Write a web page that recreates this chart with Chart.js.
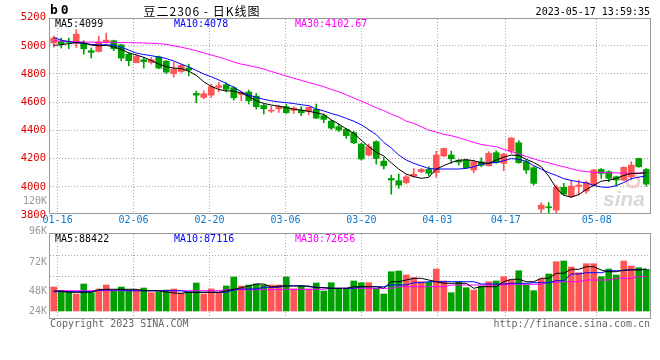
<!DOCTYPE html>
<html>
<head>
<meta charset="utf-8">
<title>豆二2306 - 日K线图</title>
<script src="https://cdn.jsdelivr.net/npm/chart.js@4.4.0/dist/chart.umd.min.js"></script>
<style>
  body { margin: 0; background: #fff; }
  #wrap { position: relative; width: 660px; height: 360px; }
  #wrap canvas { position: absolute; left: 0; top: 0; }
</style>
</head>
<body>
<div id="wrap">
  <canvas id="kChart" width="660" height="360"></canvas>
  <canvas id="volChart" width="660" height="360"></canvas>
</div>
<script>
// trading days shown on the chart
const dates = [
  '01-13', '01-16', '01-17', '01-18', '01-19', '01-20', '01-30', '01-31', '02-01', '02-02',
  '02-03', '02-06', '02-07', '02-08', '02-09', '02-10', '02-13', '02-14', '02-15', '02-16',
  '02-17', '02-20', '02-21', '02-22', '02-23', '02-24', '02-27', '02-28', '03-01', '03-02',
  '03-03', '03-06', '03-07', '03-08', '03-09', '03-10', '03-13', '03-14', '03-15', '03-16',
  '03-17', '03-20', '03-21', '03-22', '03-23', '03-24', '03-27', '03-28', '03-29', '03-30',
  '03-31', '04-03', '04-04', '04-06', '04-07', '04-10', '04-11', '04-12', '04-13', '04-14',
  '04-17', '04-18', '04-19', '04-20', '04-21', '04-24', '04-25', '04-26', '04-27', '04-28',
  '05-04', '05-05', '05-08', '05-09', '05-10', '05-11', '05-12', '05-15', '05-16', '05-17'
];
const tickDates = ['01-16', '02-06', '02-20', '03-06', '03-20', '04-03', '04-17', '05-08'];

const opens = [
  5020, 5031, 5031, 5019, 5019, 4965, 4960, 5026, 5036, 5007,
  4941, 4880, 4901, 4882, 4922, 4891, 4802, 4818, 4842, 4662,
  4634, 4650, 4705, 4724, 4702, 4655, 4672, 4643, 4577, 4537,
  4553, 4568, 4542, 4544, 4535, 4549, 4504, 4466, 4426, 4407,
  4383, 4303, 4225, 4320, 4182, 4059, 4043, 4029, 4076, 4107,
  4123, 4100, 4218, 4225, 4189, 4189, 4119, 4178, 4149, 4242,
  4166, 4253, 4312, 4178, 4135, 3842, 3858, 3835, 3996, 3930,
  4002, 3970, 4012, 4123, 4107, 4071, 4048, 4071, 4201, 4123
];
const highs = [
  5070, 5055, 5055, 5114, 5036, 4984, 5069, 5090, 5040, 5012,
  4948, 4932, 4917, 4917, 4927, 4896, 4882, 4870, 4870, 4679,
  4681, 4728, 4740, 4738, 4710, 4679, 4686, 4662, 4587, 4572,
  4577, 4584, 4568, 4568, 4568, 4587, 4516, 4473, 4445, 4416,
  4393, 4308, 4303, 4327, 4208, 4083, 4090, 4083, 4130, 4130,
  4142, 4253, 4275, 4253, 4190, 4194, 4189, 4206, 4249, 4256,
  4237, 4348, 4327, 4194, 4142, 3887, 3887, 4012, 4024, 4043,
  4048, 4041, 4123, 4130, 4114, 4076, 4142, 4178, 4203, 4130
];
const lows = [
  4990, 4984, 4979, 4988, 4941, 4913, 4955, 5019, 4965, 4894,
  4858, 4880, 4842, 4870, 4837, 4804, 4778, 4811, 4787, 4596,
  4624, 4634, 4674, 4672, 4615, 4610, 4587, 4551, 4516, 4527,
  4527, 4520, 4520, 4504, 4511, 4483, 4454, 4407, 4390, 4343,
  4305, 4190, 4218, 4161, 4126, 3948, 3989, 4019, 4067, 4100,
  4076, 4067, 4215, 4166, 4154, 4130, 4100, 4142, 4147, 4166,
  4114, 4237, 4166, 4095, 4012, 3815, 3815, 3816, 3941, 3922,
  3941, 3953, 4005, 4060, 4036, 4005, 4043, 4048, 4138, 4005
];
const closes = [
  5055, 5014, 5025, 5083, 4979, 4953, 5026, 5040, 4979, 4913,
  4894, 4925, 4887, 4901, 4842, 4813, 4835, 4861, 4828, 4650,
  4660, 4710, 4717, 4691, 4631, 4667, 4610, 4568, 4553, 4544,
  4570, 4525, 4558, 4525, 4563, 4487, 4478, 4416, 4402, 4362,
  4312, 4197, 4284, 4201, 4149, 4048, 4012, 4071, 4090, 4123,
  4095, 4225, 4272, 4199, 4175, 4135, 4178, 4152, 4237, 4171,
  4232, 4346, 4171, 4119, 4024, 3870, 3851, 3996, 3948, 4005,
  4012, 4029, 4119, 4095, 4060, 4048, 4138, 4154, 4142, 4019
];

// moving average lines
const ma5 = [
  5003, 5008, 5015, 5022, 5020, 5005, 5000, 5003, 4992, 4975,
  4950, 4935, 4918, 4895, 4870, 4852, 4842, 4838, 4820, 4790,
  4745, 4712, 4690, 4680, 4679, 4665, 4640, 4610, 4591, 4580,
  4572, 4562, 4550, 4544, 4535, 4525, 4513, 4475, 4445, 4410,
  4380, 4330, 4285, 4245, 4218, 4170, 4125, 4090, 4072, 4060,
  4067, 4125, 4150, 4172, 4188, 4192, 4185, 4170, 4166, 4190,
  4210, 4225, 4222, 4195, 4172, 4142, 4075, 3990, 3940, 3926,
  3945, 3980, 4010, 4040, 4046, 4060, 4080, 4095, 4095, 4099
];
const ma10 = [
  5058, 5040, 5030, 5022, 5018, 5010, 5006, 5008, 5004, 4990,
  4970, 4948, 4938, 4930, 4920, 4910, 4892, 4870, 4850, 4825,
  4800, 4780, 4758, 4733, 4705, 4674, 4650, 4635, 4620, 4610,
  4602, 4597, 4590, 4582, 4575, 4552, 4538, 4520, 4505, 4485,
  4465, 4440, 4405, 4370, 4315, 4275, 4225, 4190, 4166, 4148,
  4130, 4126, 4126, 4126, 4126, 4130, 4142, 4160, 4168, 4172,
  4185, 4200, 4195, 4180, 4150, 4125, 4100, 4080, 4058, 4045,
  4035, 4028, 4010, 3998, 3996, 4008, 4030, 4058, 4068, 4078
];
const ma30 = [
  5035, 5033, 5030, 5028, 5027, 5026, 5025, 5024, 5024, 5023,
  5022, 5021, 5020, 5018, 5015, 5010, 5000, 4990, 4978, 4965,
  4950, 4935, 4920, 4903, 4885, 4870, 4860, 4848, 4835, 4818,
  4802, 4785, 4770, 4755, 4740, 4725, 4710, 4690, 4674, 4652,
  4630, 4608, 4585, 4560, 4540, 4515, 4495, 4465, 4450, 4425,
  4402, 4388, 4372, 4362, 4348, 4331, 4315, 4300, 4292, 4284,
  4265, 4249, 4232, 4215, 4198, 4182, 4170, 4155, 4142, 4128,
  4114, 4108, 4102, 4101, 4100, 4099, 4097, 4095, 4098, 4103
];

const volumes = [
  50400, 42600, 40500, 35700, 56700, 38400, 46200, 54600, 42600, 50400,
  44100, 44100, 48300, 38400, 40500, 44100, 46200, 37200, 40500, 58800,
  35700, 46200, 39300, 52500, 71400, 52500, 54600, 56700, 54600, 54600,
  54600, 71400, 46200, 52500, 46200, 58800, 42000, 59400, 45600, 45600,
  63000, 59400, 59400, 47700, 35700, 82500, 84000, 75600, 69900, 61500,
  60300, 88200, 63000, 38400, 61500, 48900, 44100, 52500, 61500, 63000,
  72000, 65100, 84600, 54600, 42600, 67200, 77700, 103500, 105000, 92400,
  80400, 99300, 99300, 72000, 88200, 75600, 105000, 94500, 90900, 87600
];
const volMa5 = [
  42000, 42000, 39300, 39300, 39300, 39300, 44100, 45600, 45600, 45600,
  45600, 45600, 42600, 42600, 42600, 39900, 37800, 37200, 39300, 39300,
  39300, 39300, 39300, 42600, 45600, 48900, 52500, 56700, 56700, 50400,
  52500, 52500, 52500, 52500, 52500, 48900, 48900, 47700, 47700, 47700,
  51000, 51000, 51000, 51000, 47700, 61500, 61500, 65100, 68700, 68700,
  65100, 61500, 58200, 58200, 58200, 58200, 47700, 51000, 51000, 51000,
  61500, 66600, 66600, 61500, 61500, 68700, 68700, 79200, 79200, 87600,
  87600, 93000, 93000, 86100, 82500, 82500, 86100, 86100, 86100, 88400
];
const volMa10 = [
  40500, 40500, 40500, 40500, 40500, 40500, 44100, 44100, 44100, 44100,
  42600, 42600, 42600, 42600, 42600, 42600, 42600, 42600, 39300, 39300,
  39300, 39300, 39300, 39300, 44100, 46200, 46200, 46200, 49800, 49800,
  49800, 53100, 53100, 53100, 51000, 49800, 48900, 47700, 47700, 47700,
  47700, 51000, 51000, 51000, 51000, 54600, 54600, 54600, 59400, 59400,
  61500, 61500, 61500, 61500, 61500, 61500, 61500, 56700, 56700, 56700,
  56700, 58200, 58200, 58200, 59400, 59400, 59400, 63600, 63600, 77700,
  77700, 80400, 80400, 80400, 84600, 84600, 84600, 87100, 87100, 87100
];
const volMa30 = [
  42600, 42600, 42600, 42600, 42600, 42600, 42600, 42600, 42600, 42600,
  42600, 42600, 42600, 42600, 42600, 42600, 42600, 42600, 42600, 42600,
  42600, 42600, 42600, 44700, 44700, 44700, 44700, 44700, 44700, 44700,
  44700, 45600, 45600, 45600, 45600, 45600, 45600, 47700, 47700, 47700,
  47700, 47700, 47700, 47700, 47700, 47700, 51000, 51000, 51000, 51000,
  51000, 51000, 51000, 54600, 54600, 54600, 54600, 54600, 54600, 54600,
  54600, 56100, 56100, 56100, 56100, 56100, 60300, 60300, 61500, 61500,
  61500, 65100, 65100, 65100, 65100, 68700, 68700, 68700, 72700, 72700
];

const priceTicks = [3800, 4000, 4200, 4400, 4600, 4800, 5000, 5200];
const volTickLabels = ['120K', '96K', '72K', '48K', '24K'];
const priceLegend = ['MA5:4099', 'MA10:4078', 'MA30:4102.67'];
const volLegend = ['MA5:88422', 'MA10:87116', 'MA30:72656'];

const MONO = '"DejaVu Sans Mono", monospace';
const UP = '#ff5555';
const DOWN = '#00a000';
const GRID = '#aaaaaa';
const legendColors = ['#000000', '#0000ff', '#ff00ff'];

const isUp = i => closes[i] >= opens[i];
const candleColor = ctx => isUp(ctx.dataIndex) ? UP : DOWN;

const bodies = opens.map((o, i) => [o, closes[i]]);
const wicks = lows.map((l, i) => [l, highs[i]]);

// the dotted date grid + labels, shared by both panels
function dateAxis(showLabels, height) {
  return {
    type: 'category',
    labels: dates,
    offset: false,
    position: 'bottom',
    grid: {
      offset: false,
      drawTicks: false,
      color: ctx => tickDates.includes(dates[ctx.index]) ? GRID : 'rgba(0,0,0,0)'
    },
    border: { display: false, dash: [1, 2] },
    ticks: {
      display: showLabels,
      autoSkip: false,
      maxRotation: 0,
      padding: 1,
      color: '#0a78d2',
      font: { family: MONO, size: 10 },
      callback: (v, i) => tickDates.includes(dates[i]) ? dates[i] : ''
    },
    afterFit: axis => { axis.height = height; }
  };
}

const boxPlugin = {
  id: 'box',
  afterDraw(chart) {
    const { ctx, chartArea: a } = chart;
    ctx.save();
    ctx.strokeStyle = '#999';
    ctx.lineWidth = 1;
    ctx.strokeRect(Math.round(a.left) - 0.5, Math.round(a.top) - 0.5,
      Math.round(a.right - a.left) + 1, Math.round(a.bottom - a.top) + 1);
    ctx.restore();
  }
};

function drawLegend(ctx, items, y) {
  const xs = [55, 174, 295];
  ctx.font = '10px ' + MONO;
  ctx.textAlign = 'left';
  ctx.textBaseline = 'middle';
  items.forEach((t, i) => {
    ctx.fillStyle = legendColors[i];
    ctx.fillText(t, xs[i], y);
  });
}

const textPlugin = {
  id: 'texts',
  beforeDatasetsDraw(chart) {
    // faint sina watermark
    const ctx = chart.ctx;
    ctx.save();
    ctx.strokeStyle = 'rgba(240,170,170,0.6)';
    ctx.lineWidth = 3;
    ctx.beginPath();
    ctx.arc(633, 181, 6, 0, Math.PI * 2);
    ctx.stroke();
    ctx.fillStyle = 'rgba(200,200,200,0.7)';
    ctx.font = 'italic bold 21px "Liberation Sans"';
    ctx.textAlign = 'left';
    ctx.textBaseline = 'alphabetic';
    ctx.fillText('sina', 603, 206);
    ctx.restore();
  },
  afterDraw(chart) {
    const ctx = chart.ctx;
    ctx.save();
    ctx.fillStyle = '#000';
    ctx.textBaseline = 'middle';
    ctx.font = 'bold 13px ' + MONO;
    ctx.letterSpacing = '3px';
    ctx.fillText('b0', 50, 11);
    ctx.letterSpacing = '1px';
    ctx.font = '12px "Noto Sans CJK SC"';
    ctx.textAlign = 'center';
    ctx.fillText('豆二2306 - 日K线图', 202, 11);
    ctx.letterSpacing = '0px';
    ctx.font = '10px ' + MONO;
    ctx.textAlign = 'right';
    ctx.fillText('2023-05-17 13:59:35', 650, 12);

    drawLegend(ctx, priceLegend, 24);
    drawLegend(ctx, volLegend, 239);

    // volume labels as printed on the left
    const ys = [201, 231, 262, 291, 311];
    ctx.font = '10px ' + MONO;
    ctx.textAlign = 'right';
    ctx.fillStyle = '#999';
    volTickLabels.forEach((t, i) => ctx.fillText(t, 47, ys[i]));

    ctx.fillStyle = '#666';
    ctx.textAlign = 'left';
    ctx.fillText('Copyright 2023 SINA.COM', 50, 324);
    ctx.textAlign = 'right';
    ctx.fillText('http://finance.sina.com.cn', 650, 324);
    ctx.restore();
  }
};

new Chart(document.getElementById('kChart'), {
  type: 'bar',
  data: {
    labels: dates,
    datasets: [
      { type: 'line', data: ma5, borderColor: '#000', borderWidth: 1, pointRadius: 0, order: 0 },
      { type: 'line', data: ma10, borderColor: '#0000ff', borderWidth: 1, pointRadius: 0, order: 0 },
      { type: 'line', data: ma30, borderColor: '#ff00ff', borderWidth: 1, pointRadius: 0, order: 0 },
      { data: bodies, backgroundColor: candleColor, barThickness: 6, minBarLength: 1, grouped: false, order: 1 },
      { data: wicks, backgroundColor: candleColor, barThickness: 1, grouped: false, order: 2 }
    ]
  },
  options: {
    responsive: false,
    animation: false,
    layout: { padding: { top: 19, right: 10, left: 0, bottom: 0 } },
    plugins: { legend: { display: false }, tooltip: { enabled: false } },
    scales: {
      x: { display: false },
      xg: dateAxis(true, 147),
      y: {
        min: 3814,
        max: 5190,
        afterBuildTicks: axis => { axis.ticks = priceTicks.map(v => ({ value: v })); },
        afterFit: axis => { axis.width = 50; },
        grid: {
          drawTicks: false,
          color: ctx => (ctx.tick && ctx.tick.value >= 4000 && ctx.tick.value <= 5000) ? GRID : 'rgba(0,0,0,0)'
        },
        border: { display: false, dash: [1, 2] },
        ticks: {
          color: '#dd0000',
          padding: 4,
          font: { family: MONO, size: 10.5 },
          callback: v => String(v)
        }
      }
    }
  },
  plugins: [boxPlugin, textPlugin]
});

new Chart(document.getElementById('volChart'), {
  type: 'bar',
  data: {
    labels: dates,
    datasets: [
      { type: 'line', data: volMa5, borderColor: '#000', borderWidth: 1, pointRadius: 0, yAxisID: 'yv', order: 0 },
      { type: 'line', data: volMa10, borderColor: '#0000ff', borderWidth: 1, pointRadius: 0, yAxisID: 'yv', order: 0 },
      { type: 'line', data: volMa30, borderColor: '#ff00ff', borderWidth: 1, pointRadius: 0, yAxisID: 'yv', order: 0 },
      { data: volumes, backgroundColor: candleColor, barThickness: 6, yAxisID: 'yv', order: 1 }
    ]
  },
  options: {
    responsive: false,
    animation: false,
    layout: { padding: { top: 234, right: 10, left: 0, bottom: 0 } },
    plugins: { legend: { display: false }, tooltip: { enabled: false } },
    scales: {
      x: { display: false },
      xg: dateAxis(false, 42),
      yv: {
        position: 'left',
        min: -14700,
        max: 161700,
        grid: { display: false },
        border: { display: false },
        ticks: { display: false },
        afterFit: axis => { axis.width = 50; }
      },
      yg: {
        position: 'left',
        min: 0,
        max: 4,
        ticks: { display: false, stepSize: 1 },
        grid: {
          drawTicks: false,
          color: ctx => (ctx.tick && ctx.tick.value > 0 && ctx.tick.value < 4) ? GRID : 'rgba(0,0,0,0)'
        },
        border: { display: false, dash: [1, 2] },
        afterFit: axis => { axis.width = 0; }
      }
    }
  },
  plugins: [boxPlugin]
});
</script>
</body>
</html>
